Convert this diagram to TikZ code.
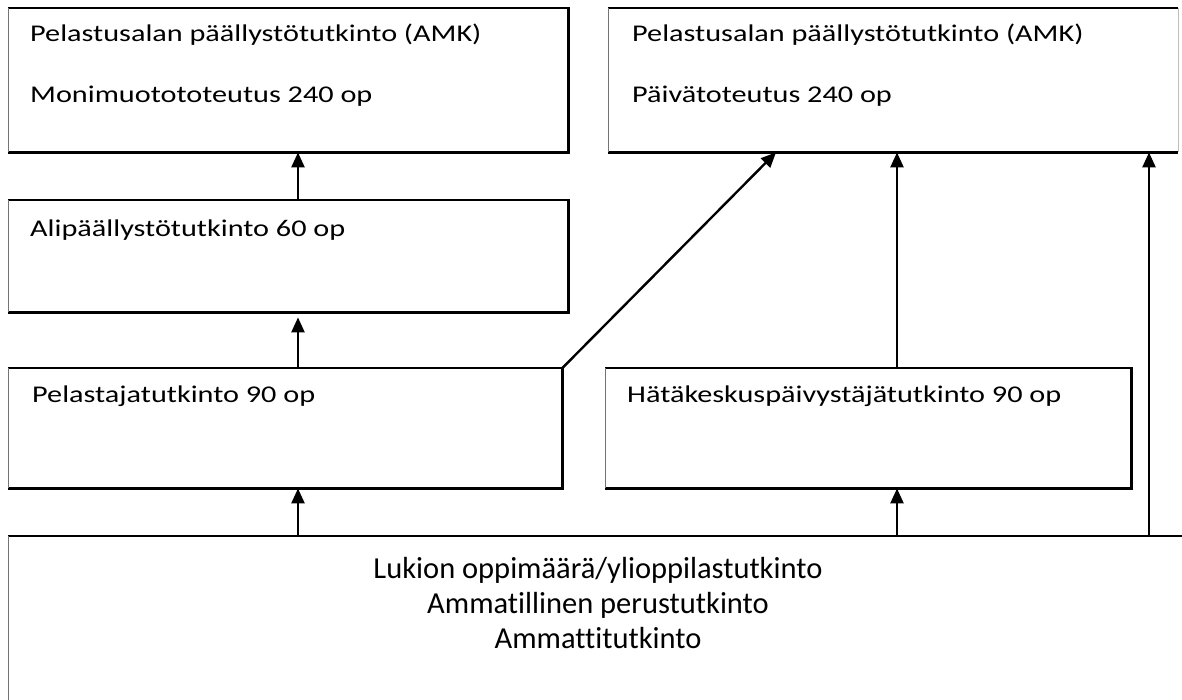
\documentclass[tikz,border=0pt]{standalone}
\usepackage{fontspec}
\setmainfont{Carlito}[Ligatures={NoCommon}]
\newfontfamily\widefont{Carlito}[FakeStretch=1.26,Ligatures={NoCommon}]
\usetikzlibrary{arrows.meta}
\begin{document}
\begin{tikzpicture}[x=1pt,y=-1pt,
  box/.style={draw=none,inner sep=0pt,anchor=north west},
  edge/.style={line width=2.7pt,black},
  thinedge/.style={line width=1pt,black!55},
  txt/.style={inner sep=0pt,anchor=base west,font=\widefont\fontsize{24pt}{28pt}\selectfont},
  ctxt/.style={inner sep=0pt,anchor=base,font=\fontsize{30.5pt}{34pt}\selectfont},
  arr/.style={line width=2.4pt,-{Triangle[length=15pt,width=13pt]}}]
\useasboundingbox[fill=white] (0,0) rectangle (1182,700);
% boxes
\node[box,minimum width=560pt,minimum height=144pt] (A) at (8,8) {};
\node[box,minimum width=570pt,minimum height=144pt] (B) at (608,8) {};
\node[box,minimum width=560pt,minimum height=112pt] (C) at (8,200) {};
\node[box,minimum width=554pt,minimum height=120pt] (D) at (8,368) {};
\node[box,minimum width=526pt,minimum height=120pt] (E) at (605,368) {};
\node[box,minimum width=1190pt,minimum height=180pt] (F) at (8,536) {};
% borders
\foreach \n in {A,C,D,E}{
  \draw[edge] (\n.south west) -- (\n.south east) -- (\n.north east) -- (\n.north west);
  \draw[thinedge] (\n.north west) -- (\n.south west);
}
\draw[edge] (B.south west) -- (B.south east);
\draw[edge] (B.north west) -- (B.north east);
\draw[thinedge] (B.north west) -- (B.south west);
\draw[line width=0.8pt,black!25] (B.north east) -- (B.south east);
\draw[edge] (F.north west) -- (F.north east);
\draw[thinedge] (F.north west) -- (F.south west);
% texts
\node[txt] (a1) at (30,42) {Pelastusalan päällystötutkinto (AMK)};
\node[txt] (a2) at (30,103) {Monimuotototeutus 240 op};
\node[txt] (b1) at (632,42) {Pelastusalan päällystötutkinto (AMK)};
\node[txt] (b2) at (632,103) {Päivätoteutus 240 op};
\node[txt] (c1) at (30,237) {Alipäällystötutkinto 60 op};
\node[txt] (d1) at (32,402) {Pelastajatutkinto 90 op};
\node[txt] (e1) at (627,402) {Hätäkeskuspäivystäjätutkinto 90 op};
\node[ctxt] (f1) at (598,578) {Lukion oppimäärä/ylioppilastutkinto};
\node[ctxt] (f2) at (598,613) {Ammatillinen perustutkinto};
\node[ctxt] (f3) at (598,648) {Ammattitutkinto};
% arrow positions
\coordinate (xl) at (298,0);
\coordinate (xm) at (897,0);
\coordinate (xr) at (1149,0);
\coordinate (xd) at (776,0);
\draw[arr] (C.north -| xl) -- (A.south -| xl);
\draw[arr,shorten >=5pt] (D.north -| xl) -- (C.south -| xl);
\draw[arr] (F.north -| xl) -- (D.south -| xl);
\draw[arr] (F.north -| xm) -- (E.south -| xm);
\draw[arr] (E.north -| xm) -- (B.south -| xm);
\draw[arr] (F.north -| xr) -- (B.south -| xr);
\draw[arr] (D.north east) -- (B.south -| xd);
\end{tikzpicture}
\end{document}
